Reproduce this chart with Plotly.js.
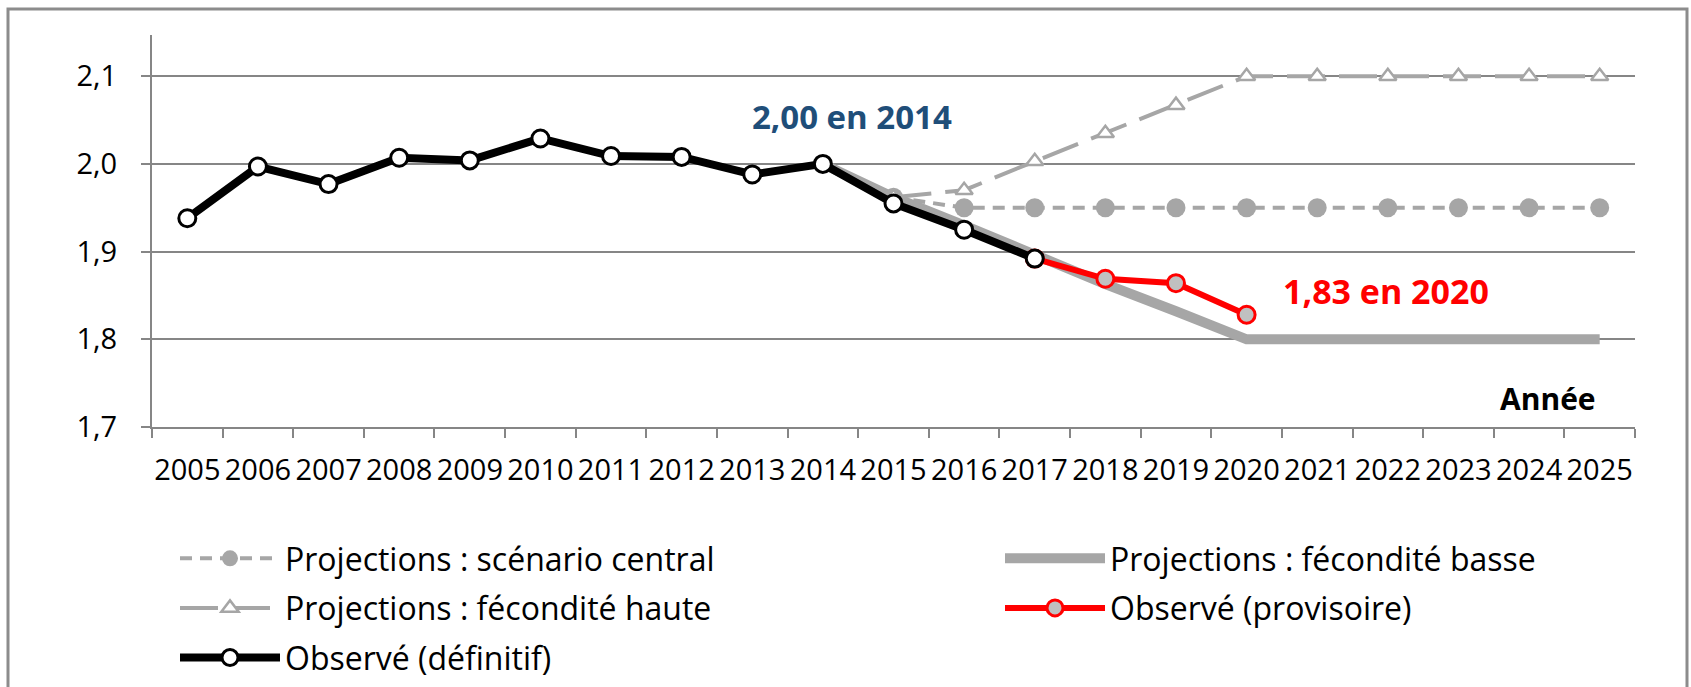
<!DOCTYPE html>
<html>
<head>
<meta charset="utf-8">
<script src="https://cdn.plot.ly/plotly-3.0.1.min.js"></script>
<style>
html,body{margin:0;padding:0;background:#ffffff;}
#chart{width:1691px;height:687px;}
</style>
</head>
<body>
<div id="chart"></div>
<script>
// ---- data ----
const years = ['2005','2006','2007','2008','2009','2010','2011','2012','2013','2014','2015',
               '2016','2017','2018','2019','2020','2021','2022','2023','2024','2025'];

const yearsDefinitif  = ['2005','2006','2007','2008','2009','2010','2011','2012','2013','2014','2015','2016','2017'];
const valuesDefinitif = [1.938, 1.997, 1.977, 2.007, 2.004, 2.029, 2.009, 2.008, 1.988, 2.000, 1.955, 1.925, 1.892];

const yearsProvisoire  = ['2017','2018','2019','2020'];
const valuesProvisoire = [1.892, 1.869, 1.864, 1.828];

const yearsCentral  = ['2015','2016','2017','2018','2019','2020','2021','2022','2023','2024','2025'];
const valuesCentral = [1.962, 1.95, 1.95, 1.95, 1.95, 1.95, 1.95, 1.95, 1.95, 1.95, 1.95];

const yearsHaute  = ['2015','2016','2017','2018','2019','2020','2021','2022','2023','2024','2025'];
const valuesHaute = [1.962, 1.970, 2.003, 2.035, 2.067, 2.1, 2.1, 2.1, 2.1, 2.1, 2.1];

const yearsBasse  = ['2014','2015','2016','2017','2018','2019','2020','2021','2022','2023','2024','2025'];
const valuesBasse = [2.000, 1.962, 1.930, 1.895, 1.863, 1.832, 1.80, 1.80, 1.80, 1.80, 1.80, 1.80];

const yTickVals = [1.7, 1.8, 1.9, 2.0, 2.1];

const labels = {
  central: 'Projections : scénario central',
  basse: 'Projections : fécondité basse',
  haute: 'Projections : fécondité haute',
  provisoire: 'Observé (provisoire)',
  definitif: 'Observé (définitif)'
};

// ---- layout constants ----
const W = 1691, H = 687;
const FONT = 'Open Sans, Lato, DejaVu Sans, sans-serif';
const GRID = '#868686';
const PROJ = '#a6a6a6';
const ML = 152, MR = W - 1635, MT = 35, MB = H - 427;
const PW = W - ML - MR, PH = H - MT - MB;

const traces = [
  { // basse (thick gray)
    x: yearsBasse, y: valuesBasse, type: 'scatter', mode: 'lines', name: labels.basse,
    line: {color: PROJ, width: 10}, legend: 'legend2', legendgroup: 'g_basse', legendrank: 1,
    hoverinfo: 'skip'
  },
  { // central
    x: yearsCentral, y: valuesCentral, type: 'scatter', mode: 'lines+markers', name: labels.central,
    line: {color: PROJ, width: 4, dash: '12px,8px'},
    marker: {symbol: 'circle', size: 19, color: PROJ, line: {width: 0}},
    legend: 'legend', legendgroup: 'g_central', legendrank: 1, hoverinfo: 'skip'
  },
  { // haute
    x: yearsHaute, y: valuesHaute, type: 'scatter', mode: 'lines+markers', name: labels.haute,
    line: {color: PROJ, width: 4, dash: '38px,14px'},
    marker: {symbol: 'triangle-up', size: 15, color: '#ffffff', line: {color: PROJ, width: 2.5}},
    legend: 'legend', legendgroup: 'g_haute', legendrank: 2, hoverinfo: 'skip'
  },
  { // provisoire
    x: yearsProvisoire, y: valuesProvisoire, type: 'scatter', mode: 'lines+markers', name: labels.provisoire,
    line: {color: '#ff0000', width: 6},
    marker: {symbol: 'circle', size: 17, color: '#c0c0c0', line: {color: '#ff0000', width: 3}},
    legend: 'legend2', legendgroup: 'g_prov', legendrank: 2, hoverinfo: 'skip'
  },
  { // definitif
    x: yearsDefinitif, y: valuesDefinitif, type: 'scatter', mode: 'lines+markers', name: labels.definitif,
    line: {color: '#000000', width: 8},
    marker: {symbol: 'circle', size: 17, color: '#ffffff', line: {color: '#000000', width: 3}},
    legend: 'legend', legendgroup: 'g_def', legendrank: 3, hoverinfo: 'skip'
  }
];

const legendCommon = {
  xref: 'container', yref: 'container', xanchor: 'left', yanchor: 'top',
  orientation: 'v', traceorder: 'grouped', tracegroupgap: 5, itemwidth: 100,
  font: {family: FONT, size: 32, color: '#000000'}, bgcolor: 'rgba(0,0,0,0)', borderwidth: 0
};

const layout = {
  width: W, height: H,
  paper_bgcolor: '#ffffff', plot_bgcolor: '#ffffff',
  margin: {l: ML, r: MR, t: MT, b: MB, pad: 0, autoexpand: false},
  separators: ', ',
  font: {family: FONT, size: 29, color: '#000000'},
  showlegend: true,
  legend: Object.assign({}, legendCommon, {x: 175 / W, y: 1 - 531 / H}),
  legend2: Object.assign({}, legendCommon, {x: 1000 / W, y: 1 - 531 / H}),
  xaxis: {
    type: 'category', categoryorder: 'array', categoryarray: years,
    range: [-0.5, years.length - 0.5], tickangle: 0, automargin: false,
    tickson: 'boundaries', ticks: 'outside', ticklen: 9, tickwidth: 2, tickcolor: GRID,
    showline: true, linecolor: GRID, linewidth: 2, showgrid: false, zeroline: false,
    tickfont: {family: FONT, size: 29, color: '#000000'}, ticklabelstandoff: 16,
    fixedrange: true
  },
  yaxis: {
    range: [1.7, 2.147], tickvals: yTickVals, tickformat: '.1f', automargin: false,
    ticks: 'outside', ticklen: 9, tickwidth: 2, tickcolor: GRID,
    showline: true, linecolor: GRID, linewidth: 2,
    showgrid: true, gridcolor: GRID, gridwidth: 2, zeroline: false,
    tickfont: {family: FONT, size: 29, color: '#000000'}, ticklabelstandoff: 18,
    fixedrange: true
  },
  shapes: [{
    type: 'rect', xref: 'paper', yref: 'paper', layer: 'below',
    x0: (8 - ML) / PW, x1: (1687 - ML) / PW,
    y0: -1.0, y1: (MT + PH - 9) / PH,
    line: {color: '#8c8c8c', width: 3}, fillcolor: 'rgba(0,0,0,0)'
  }],
  annotations: [
    {text: '<b>2,00 en 2014</b>', xref: 'paper', yref: 'y', x: (852 - ML) / PW, y: 2.054,
     showarrow: false, xanchor: 'center', yanchor: 'middle',
     font: {family: FONT, size: 33, color: '#1f4e79'}},
    {text: '<b>1,83 en 2020</b>', xref: 'paper', yref: 'y', x: (1386 - ML) / PW, y: 1.855,
     showarrow: false, xanchor: 'center', yanchor: 'middle',
     font: {family: FONT, size: 34, color: '#ff0000'}},
    {text: '<b>Année</b>', xref: 'paper', yref: 'y', x: (1548 - ML) / PW, y: 1.732,
     showarrow: false, xanchor: 'center', yanchor: 'middle',
     font: {family: FONT, size: 30, color: '#000000'}}
  ]
};

Plotly.newPlot('chart', traces, layout, {displayModeBar: false, staticPlot: true});
</script>
</body>
</html>
